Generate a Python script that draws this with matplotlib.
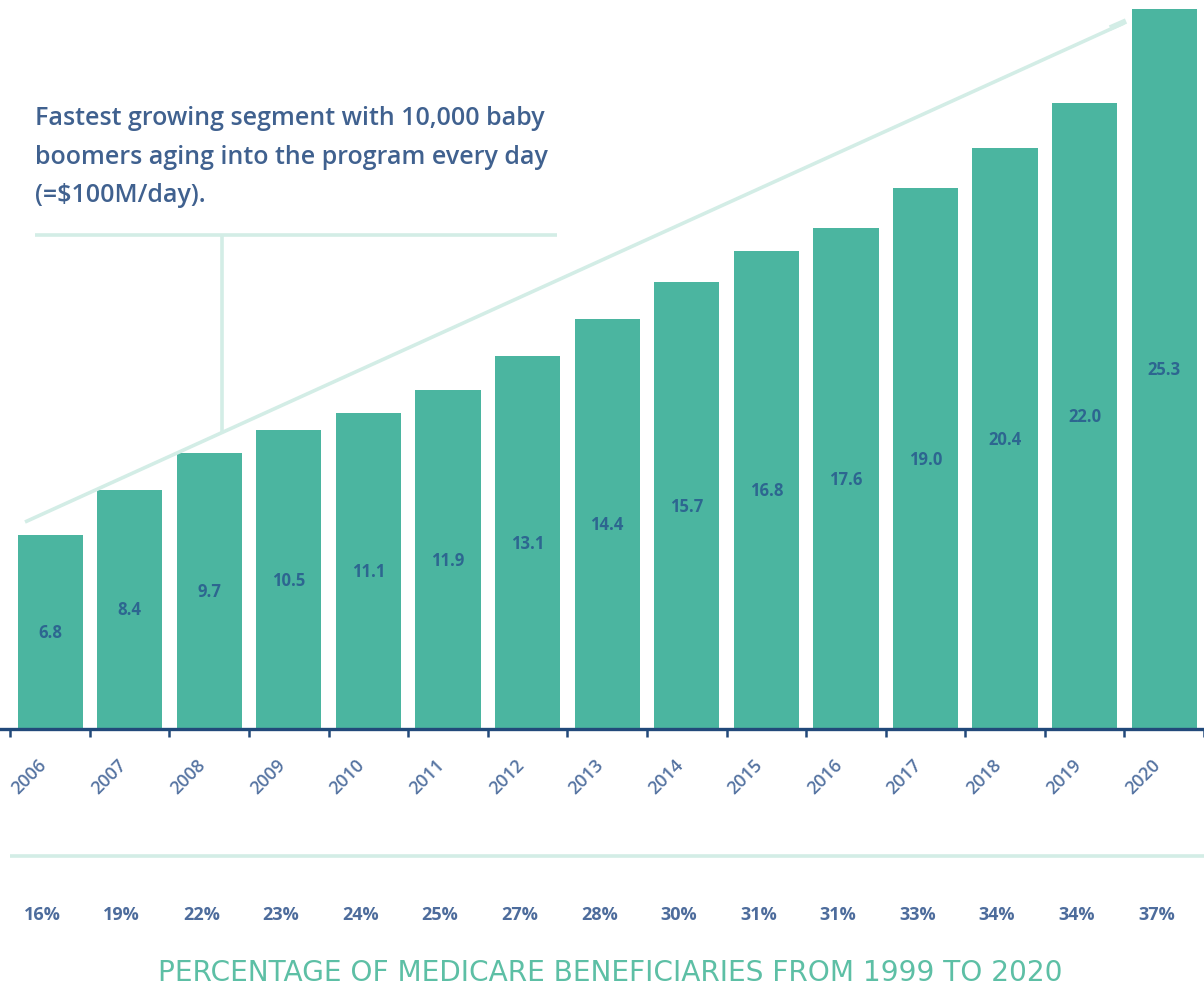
import matplotlib.pyplot as plt
from matplotlib.lines import Line2D
from matplotlib.transforms import blended_transform_factory

years = ['2006', '2007', '2008', '2009', '2010', '2011', '2012', '2013',
         '2014', '2015', '2016', '2017', '2018', '2019', '2020']
spend = [6.8, 8.4, 9.7, 10.5, 11.1, 11.9, 13.1, 14.4,
         15.7, 16.8, 17.6, 19.0, 20.4, 22.0, 25.3]
share = ['16%', '19%', '22%', '23%', '24%', '25%', '27%', '28%',
         '30%', '31%', '31%', '33%', '34%', '34%', '37%']

teal = '#4bb5a0'
pale = '#d3ede6'
navy = '#22497a'
text_blue = '#40618f'

W, H = 1204, 987
fig = plt.figure(figsize=(W / 100, H / 100), dpi=100)
# axes fills the width, baseline sits 730px from the top
ax = fig.add_axes([0, (H - 730) / H, 1, 730 / H])

x = list(range(len(years)))
ax.bar(x, spend, width=0.82, color=teal, zorder=2)
for xi, v in zip(x, spend):
    ax.text(xi, v / 2, f'{v:.1f}', ha='center', va='center',
            fontsize=12, fontweight='bold', color='#2d6690',
            family=['Open Sans', 'DejaVu Sans'], zorder=3)

ax.set_xlim(-0.63, 14.38)
ax.set_ylim(0, 25.65)

for side in ['top', 'right', 'left']:
    ax.spines[side].set_visible(False)
ax.spines['bottom'].set_color(navy)
ax.spines['bottom'].set_linewidth(2.4)
ax.set_yticks([])

# labels under bar centres, tick marks between bars
ax.set_xticks(x)
ax.set_xticklabels(years, rotation=45, ha='right', va='top',
                   fontsize=13, fontweight='semibold', color='#5674a2',
                   family=['Open Sans', 'DejaVu Sans'])
ax.tick_params(axis='x', which='major', length=0, pad=19)
ax.set_xticks([i - 0.5 for i in range(len(years) + 1)], minor=True)
ax.tick_params(axis='x', which='minor', length=6, width=1.8, color=navy)

# share of beneficiaries row
trans = blended_transform_factory(ax.transData, ax.transAxes)
for xi, s in zip(x, share):
    ax.text(xi - 0.1, -(915 - 730) / 730, s, transform=trans,
            ha='center', va='center', fontsize=13, fontweight='bold',
            color='#4d6c9c', family=['Open Sans', 'DejaVu Sans'])


def px(xp, yp):
    return xp / W, (H - yp) / H


def seg(p0, p1, lw=2.6):
    (x0, y0), (x1, y1) = px(*p0), px(*p1)
    fig.add_artist(Line2D([x0, x1], [y0, y1], color=pale, lw=lw,
                          solid_capstyle='butt', zorder=1))


# growth arrow with callout
seg((25, 523), (1124, 24))
seg((1110, 29), (1126, 22), lw=4.0)
seg((35, 236), (557, 236))
seg((222, 236), (222, 434))
seg((10, 857), (1204, 857))

tx, ty = px(35, 106)
fig.text(tx, ty, 'Fastest growing segment with 10,000 baby\n'
                 'boomers aging into the program every day\n'
                 '(=$100M/day).',
         ha='left', va='top', fontsize=18, fontweight='semibold',
         color=text_blue, linespacing=1.72,
         family=['Open Sans', 'DejaVu Sans'])

cx, cy = px(610, 973)
fig.text(cx, cy, 'PERCENTAGE OF MEDICARE BENEFICIARIES FROM 1999 TO 2020',
         ha='center', va='center', fontsize=20.2, color='#5dbfa5',
         family=['Liberation Sans Narrow', 'DejaVu Sans'])

fig.savefig('out.png', dpi=100)
